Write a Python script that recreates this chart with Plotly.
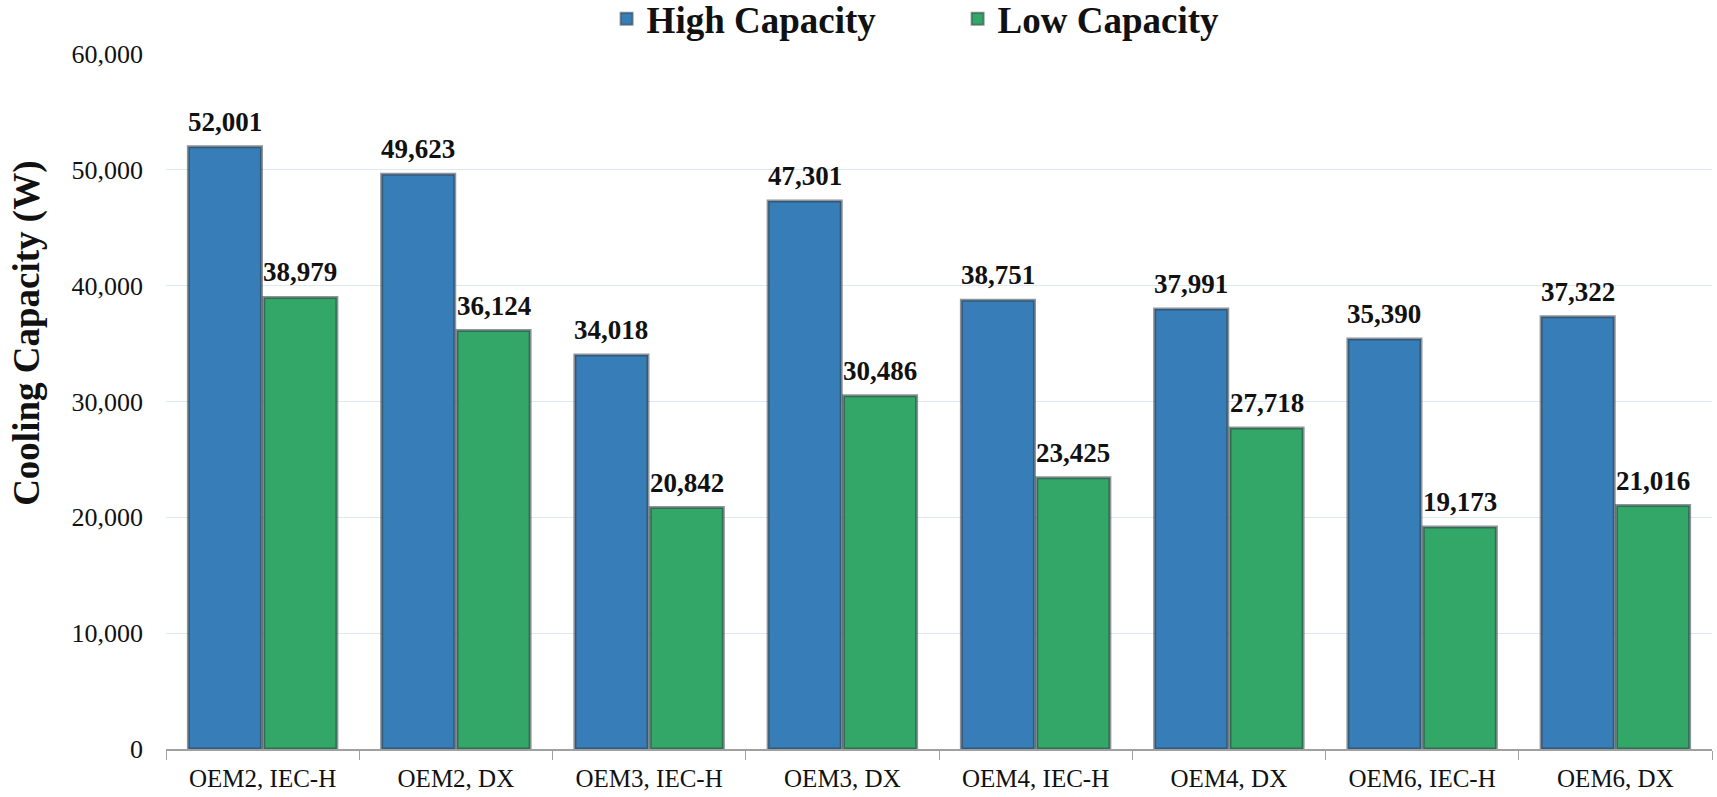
import plotly.graph_objects as go

categories = ["OEM2, IEC-H", "OEM2, DX", "OEM3, IEC-H", "OEM3, DX",
              "OEM4, IEC-H", "OEM4, DX", "OEM6, IEC-H", "OEM6, DX"]
high_capacity = [52001, 49623, 34018, 47301, 38751, 37991, 35390, 37322]
low_capacity = [38979, 36124, 20842, 30486, 23425, 27718, 19173, 21016]
y_ticks = [0, 10000, 20000, 30000, 40000, 50000, 60000]

FONT = "Liberation Serif"
BLUE = "#377db7"
GREEN = "#33a768"

fig = go.Figure()
fig.add_trace(go.Bar(name="<b>High Capacity</b>", x=categories, y=high_capacity,
                     marker=dict(color=BLUE, line=dict(color="rgba(50,60,70,0.55)", width=3))))
fig.add_trace(go.Bar(name="<b>Low Capacity</b>", x=categories, y=low_capacity,
                     marker=dict(color=GREEN, line=dict(color="rgba(50,60,70,0.55)", width=3))))

bargap = 0.22
groupgap = 0.03
slot = (1 - bargap) / 2
annotations = []
for i, (h, l) in enumerate(zip(high_capacity, low_capacity)):
    for off, v in ((-slot / 2, h), (slot / 2, l)):
        annotations.append(dict(x=i + off, y=v, xref="x", yref="y", text=f"<b>{v:,}</b>",
                                showarrow=False, yanchor="bottom", yshift=8,
                                font=dict(family=FONT, size=27, color="#111111")))

annotations.append(dict(text="<b>Cooling Capacity (W)</b>", xref="paper", yref="paper",
                        x=-0.0896, y=0.598, xanchor="center", yanchor="middle",
                        textangle=-90, showarrow=False,
                        font=dict(family=FONT, size=37, color="#111111")))

fig.update_layout(
    width=1717, height=797,
    margin=dict(l=166, r=5, t=54, b=48, autoexpand=False),
    paper_bgcolor="white", plot_bgcolor="white",
    barmode="group", bargap=bargap, bargroupgap=groupgap,
    font=dict(family=FONT, color="#111111"),
    annotations=annotations,
    legend=dict(orientation="h", x=0.285, xanchor="left", y=1.05, yanchor="middle",
                font=dict(family=FONT, size=37, color="#111111"),
                itemwidth=30, entrywidth=306, itemsizing="constant",
                bgcolor="rgba(0,0,0,0)"),
    xaxis=dict(type="category", tickson="boundaries", ticks="outside", ticklen=9,
               tickcolor="#a0a0a0", showline=True, linecolor="#a0a0a0", linewidth=1.5,
               ticklabelstandoff=6,
               tickfont=dict(family=FONT, size=25, color="#111111"), showgrid=False,
               range=[-0.5, 7.5]),
    yaxis=dict(range=[0, 60000], tickvals=y_ticks, tickformat=",", showgrid=True,
               gridcolor="#dce8f4", gridwidth=1, zeroline=False, showline=False,
               ticks="", ticklabelstandoff=22,
               tickfont=dict(family=FONT, size=26, color="#111111")),
)

fig.write_html("out.html", config={"displayModeBar": False},
               post_script="document.body.style.margin='0';document.body.style.overflow='hidden';")
